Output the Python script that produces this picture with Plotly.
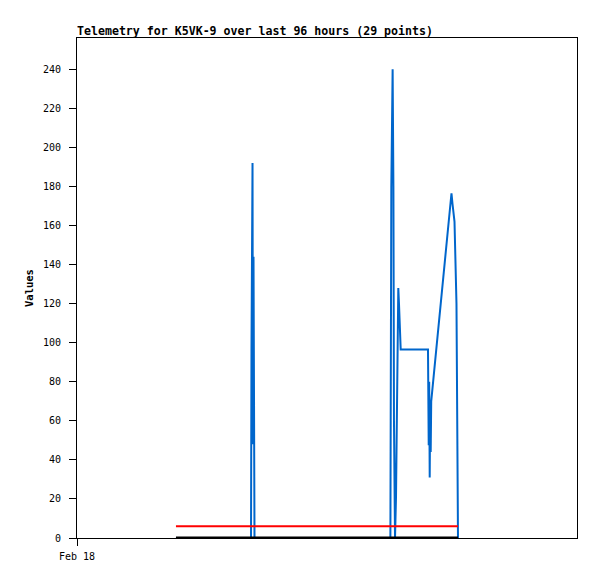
import pandas as pd
import plotly.graph_objects as go

# Hours after Feb 18 00:00 and values
start = pd.Timestamp("2024-02-18 00:00")
blue_hours = [19.0, 33.35, 33.41, 33.50, 33.70, 33.79, 33.89, 34.08,
              60.17, 60.23, 60.35, 60.60, 60.75, 60.86, 61.06, 61.25, 61.38, 61.50, 61.69,
              61.82, 61.98, 62.15, 67.39, 67.45, 67.53, 67.62, 67.72, 67.81, 67.91, 68.01,
              71.90, 72.10, 72.48, 72.86, 73.06, 73.15]
blue_vals = [0, 0, 0, 96, 192, 48, 144, 0,
             0, 60, 180, 240, 180, 60, 0, 21, 64, 107, 128,
             120, 104, 96.5, 96.5, 80, 47.5, 80, 31, 68, 44, 70,
             176.5, 171, 162, 120, 41, 0]
red_hours = [19.0, 73.15]
red_vals = [6, 6]
black_hours = [19.0, 73.15]
black_vals = [0, 0]

def to_time(hours):
    return [start + pd.Timedelta(hours=h) for h in hours]

fig = go.Figure()
fig.add_trace(go.Scatter(x=to_time(blue_hours), y=blue_vals, mode="lines",
                         line=dict(color="#0066CC", width=2), showlegend=False))
fig.add_trace(go.Scatter(x=to_time(red_hours), y=red_vals, mode="lines",
                         line=dict(color="#FF0000", width=2), showlegend=False))
fig.add_trace(go.Scatter(x=to_time(black_hours), y=black_vals, mode="lines",
                         line=dict(color="#000000", width=3), showlegend=False))

mono = "DejaVu Sans Mono"
W, H = 597, 579
L, T = 69, 30
fig.update_layout(
    width=W, height=H,
    margin=dict(l=L, r=28, t=T, b=49),
    paper_bgcolor="white", plot_bgcolor="white",
    title=dict(text="<b>Telemetry for K5VK-9 over last 96 hours (29 points)</b>",
               x=0, xref="paper", xanchor="left",
               y=1 - 23 / H, yref="container", yanchor="middle",
               font=dict(family=mono, size=11.6, color="black")),
    xaxis=dict(type="date", range=[start, start + pd.Timedelta(hours=96)],
               tickvals=[start], ticktext=["Feb 18"],
               ticks="outside", ticklen=7, tickcolor="black",
               showline=True, linecolor="black", linewidth=1, mirror=True,
               showgrid=False, zeroline=False, ticklabelstandoff=2,
               tickfont=dict(family=mono, size=10, color="black")),
    yaxis=dict(range=[0, 256], tickvals=list(range(0, 241, 20)),
               ticks="outside", ticklen=7, tickcolor="black",
               showline=True, linecolor="black", linewidth=1, mirror=True,
               showgrid=False, zeroline=False, ticklabelstandoff=6,
               tickfont=dict(family=mono, size=10, color="black")),
    annotations=[dict(text="<b>Values</b>", x=(21 - L) / 500, y=0.5,
                      xref="paper", yref="paper", textangle=-90,
                      showarrow=False, xanchor="center", yanchor="middle",
                      font=dict(family=mono, size=10.5, color="black"))],
)

fig.write_html("out.html")
